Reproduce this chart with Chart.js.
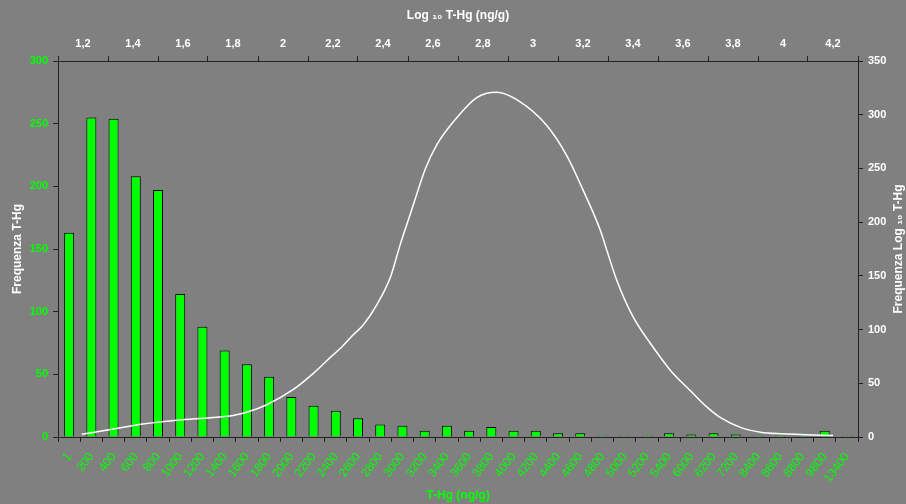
<!DOCTYPE html>
<html>
<head>
<meta charset="utf-8">
<script src="https://cdn.jsdelivr.net/npm/chart.js@4.4.1/dist/chart.umd.min.js"></script>
<style>
  html, body { margin: 0; padding: 0; background: #808080; }
  canvas { display: block; }
</style>
</head>
<body>
<canvas id="thgChart" width="906" height="504"></canvas>
<script>
// T-Hg classes (ng/g) and how many samples fall in each
const categories = ['1', '200', '400', '600', '800', '1000', '1200', '1400', '1600', '1800',
    '2000', '2200', '2400', '2600', '2800', '3000', '3200', '3400', '3600', '3800',
    '4000', '4200', '4400', '4600', '4800', '5000', '5200', '5400', '6000', '6200',
    '7200', '8400', '8600', '8800', '9800', '13400'];
const freqTHg = [163, 255, 254, 208, 197, 114, 88, 69, 58, 48,
    32, 25, 21, 15, 10, 9, 5, 9, 5, 8,
    5, 5, 3, 3, 1, 1, 1, 3, 2, 3,
    2, 1, 1, 1, 5, 1];

// Log10 T-Hg distribution (top / right axes)
const logTHg = [1.195, 1.31, 1.44, 1.575, 1.71, 1.8, 1.855, 1.935, 2.04, 2.12,
    2.175, 2.24, 2.28, 2.32, 2.375, 2.43, 2.47, 2.51, 2.57, 2.615,
    2.68, 2.775, 2.855, 2.935, 3.055, 3.135, 3.2, 3.27, 3.295, 3.335,
    3.4, 3.47, 3.55, 3.63, 3.695, 3.75, 3.83, 3.91, 3.99, 4.2];
const freqLogTHg = [2.5, 7, 12, 15.5, 18, 20, 23, 30, 44, 59,
    71, 85, 95, 104, 123, 149, 180, 208, 250, 272,
    293, 316, 321, 314, 290, 262, 230, 192, 174, 146,
    112, 87, 62, 43, 28, 18, 9, 4.5, 3, 1.5];

const green = '#00ff00';
const white = '#ffffff';
const axisColor = '#222222';
const fontFamily = 'Arial, "Liberation Sans", sans-serif';

const bgPlugin = {
    id: 'bg',
    beforeDraw(chart) {
        const ctx = chart.ctx;
        ctx.save();
        ctx.fillStyle = '#808080';
        ctx.fillRect(0, 0, chart.width, chart.height);
        ctx.restore();
    }
};

// right axis title reads bottom-to-top like the left one
const rightTitlePlugin = {
    id: 'rightTitle',
    afterDraw(chart) {
        const ctx = chart.ctx;
        const area = chart.chartArea;
        ctx.save();
        ctx.translate(899, (area.top + area.bottom) / 2);
        ctx.rotate(-Math.PI / 2);
        ctx.font = 'bold 12px ' + fontFamily;
        ctx.fillStyle = white;
        ctx.textAlign = 'center';
        ctx.textBaseline = 'middle';
        ctx.fillText('Frequenza Log \u2081\u2080 T-Hg', 0, 0);
        ctx.restore();
    }
};

const isOddTenth = v => Math.round(v * 10) % 2 !== 0;

new Chart(document.getElementById('thgChart'), {
    type: 'bar',
    data: {
        labels: categories,
        datasets: [
            {
                type: 'line',
                data: logTHg.map((x, i) => ({ x: x, y: freqLogTHg[i] })),
                xAxisID: 'x2',
                yAxisID: 'y2',
                borderColor: white,
                borderWidth: 1.5,
                pointRadius: 0,
                cubicInterpolationMode: 'monotone',
                fill: false
            },
            {
                data: freqTHg,
                xAxisID: 'x',
                yAxisID: 'y',
                backgroundColor: green,
                borderColor: '#000000',
                borderWidth: 1,
                grouped: false,
                barPercentage: 0.45,
                categoryPercentage: 1
            }
        ]
    },
    options: {
        responsive: false,
        animation: false,
        layout: { padding: 0 },
        plugins: {
            legend: { display: false },
            tooltip: { enabled: false }
        },
        scales: {
            x: {
                position: 'bottom',
                afterFit: s => { s.height = 67; },
                border: { color: axisColor, width: 1 },
                grid: { drawOnChartArea: false, tickLength: 5, color: axisColor },
                ticks: {
                    color: green,
                    font: { family: fontFamily, size: 12 },
                    autoSkip: false,
                    minRotation: 53,
                    maxRotation: 53,
                    padding: 8
                },
                title: {
                    display: true,
                    text: 'T-Hg (ng/g)',
                    color: green,
                    font: { family: fontFamily, size: 12, weight: 'bold' },
                    padding: { top: 0, bottom: 1 }
                }
            },
            x2: {
                type: 'linear',
                position: 'top',
                min: 1.1,
                max: 4.3,
                offset: false,
                afterFit: s => { s.height = 61; },
                afterBuildTicks: s => {
                    s.ticks = [];
                    for (let k = 11; k <= 43; k++) s.ticks.push({ value: k / 10 });
                },
                border: { color: axisColor, width: 1 },
                grid: {
                    offset: false,
                    drawOnChartArea: false,
                    tickLength: 5,
                    tickColor: c => (c.tick && isOddTenth(c.tick.value)) ? axisColor : 'rgba(0,0,0,0)'
                },
                ticks: {
                    color: white,
                    font: { family: fontFamily, size: 11, weight: 'bold' },
                    autoSkip: false,
                    maxRotation: 0,
                    padding: 5,
                    callback: v => isOddTenth(v) ? '' : String(Math.round(v * 10) / 10).replace('.', ',')
                },
                title: {
                    display: true,
                    text: 'Log \u2081\u2080 T-Hg (ng/g)',
                    color: white,
                    font: { family: fontFamily, size: 12, weight: 'bold' },
                    padding: { top: 8, bottom: 0 }
                }
            },
            y: {
                position: 'left',
                min: 0,
                max: 300,
                afterFit: s => { s.width = 58; },
                border: { color: axisColor, width: 1 },
                grid: { drawOnChartArea: false, tickLength: 5, color: axisColor },
                ticks: {
                    stepSize: 50,
                    color: green,
                    font: { family: fontFamily, size: 11, weight: 'bold' },
                    padding: 5
                },
                title: {
                    display: true,
                    text: 'Frequenza T-Hg',
                    color: white,
                    font: { family: fontFamily, size: 12, weight: 'bold' },
                    padding: { top: 10, bottom: 0 }
                }
            },
            y2: {
                position: 'right',
                min: 0,
                max: 350,
                afterFit: s => { s.width = 48; },
                border: { color: axisColor, width: 1 },
                grid: { drawOnChartArea: false, tickLength: 5, color: axisColor },
                ticks: {
                    stepSize: 50,
                    color: white,
                    font: { family: fontFamily, size: 11, weight: 'bold' },
                    padding: 5
                }
            }
        }
    },
    plugins: [bgPlugin, rightTitlePlugin]
});
</script>
</body>
</html>
